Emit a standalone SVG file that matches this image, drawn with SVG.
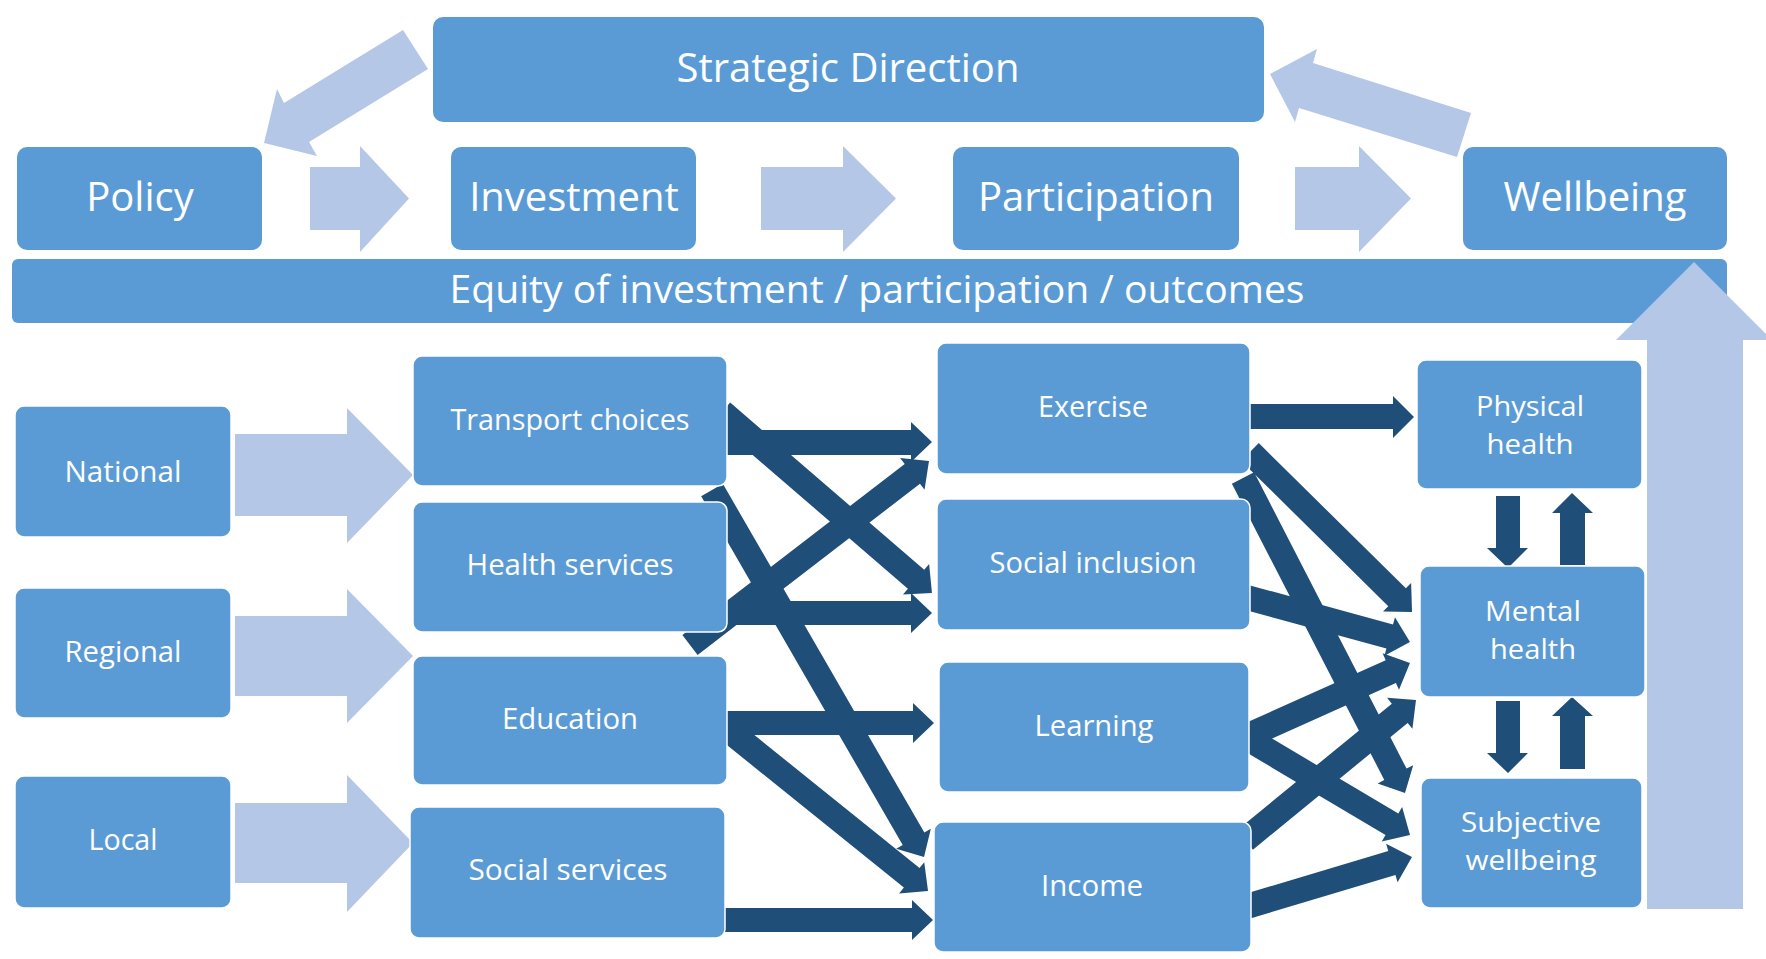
<svg xmlns="http://www.w3.org/2000/svg" width="1766" height="959" viewBox="0 0 1766 959">
  <style>
    .box { fill: #5B9BD5; stroke: #FFFFFF; stroke-width: 1.5; }
    .light { fill: #B4C7E7; }
    .dark { fill: #1F4E79; }
    text { font-family: "Open Sans", "Noto Sans", "Liberation Sans", sans-serif; fill: #FFFFFF; text-anchor: middle; }
    .big { font-size: 40px; }
    .mid { font-size: 38px; }
    .small { font-size: 30px; }
    .pair { font-size: 27.8px; }
  </style>
  <rect width="1766" height="959" fill="#FFFFFF"/>

  <!-- light feedback and flow arrows, top band -->
  <g id="top-arrows">
    <polygon class="light" points="403,30 284,103 277,89 264,143 317,156 309,142 428,69"/>
    <polygon class="light" points="1471,113 1313,63 1317,49 1270,74 1295,122 1299,108 1457,157"/>
    <polygon class="light" points="310,167 360,167 360,146 409,198.5 360,252 360,230 310,230"/>
    <polygon class="light" points="761,167 843,167 843,146 896,198.5 843,252 843,230 761,230"/>
    <polygon class="light" points="1295,167 1359,167 1359,146 1411,198.5 1359,252 1359,230 1295,230"/>
  </g>

  <!-- top row -->
  <g id="strategic-direction">
    <rect x="433" y="17" width="831" height="105" rx="10" fill="#5B9BD5"/>
    <text class="big" x="848" y="82">Strategic Direction</text>
  </g>
  <g id="policy">
    <rect x="17" y="147" width="245" height="103" rx="10" fill="#5B9BD5"/>
    <text class="big" x="140" y="211">Policy</text>
  </g>
  <g id="investment">
    <rect x="451" y="147" width="245" height="103" rx="10" fill="#5B9BD5"/>
    <text class="big" x="574" y="211">Investment</text>
  </g>
  <g id="participation">
    <rect x="953" y="147" width="286" height="103" rx="10" fill="#5B9BD5"/>
    <text class="big" x="1096" y="211">Participation</text>
  </g>
  <g id="wellbeing">
    <rect x="1463" y="147" width="264" height="103" rx="10" fill="#5B9BD5"/>
    <text class="big" x="1595" y="211">Wellbeing</text>
  </g>
  <g id="equity">
    <rect x="12" y="259" width="1715" height="64" rx="6" fill="#5B9BD5"/>
    <text class="mid" x="877" y="303" textLength="855" lengthAdjust="spacingAndGlyphs">Equity of investment / participation / outcomes</text>
  </g>

  <!-- large upward arrow on the right -->
  <g id="outcome-arrow">
    <polygon class="light" points="1694,262 1772,340 1743,340 1743,909 1647,909 1647,340 1616,340"/>
  </g>

  <!-- light arrows from level of government to services -->
  <g id="level-arrows">
    <polygon class="light" points="235,434 347,434 347,408 413,475 347,543 347,516 235,516"/>
    <polygon class="light" points="235,616 347,616 347,589 413,656 347,723 347,696 235,696"/>
    <polygon class="light" points="235,803 347,803 347,775 413,843 347,912 347,883 235,883"/>
  </g>

  <!-- dark connectors: services to participation, participation to outcomes -->
  <g id="connectors">
    <!-- horizontal links -->
    <path class="dark" d="M720,430 H911 V422 L932,442 L911,462 V455 H720 Z"/>
    <path class="dark" d="M720,601 H911 V593 L932,613 L911,633 V625 H720 Z"/>
    <path class="dark" d="M720,711 H913 V703 L934,723 L913,743 V735 H720 Z"/>
    <path class="dark" d="M720,908 H912 V900 L933,920 L912,940 V932 H720 Z"/>
    <path class="dark" d="M1245,404 H1393 V396 L1414,417 L1393,438 V429 H1245 Z"/>
    <!-- diagonal links, drawn along their own axis -->
    <path class="dark" transform="translate(722 412) rotate(40.76)" d="M0,-12.5 H256.2 V-20 L277.2,0 L256.2,20 V12.5 H0 Z"/>
    <path class="dark" transform="translate(690 645) rotate(-37.59)" d="M0,-12.5 H280.6 V-20 L301.6,0 L280.6,20 V12.5 H0 Z"/>
    <path class="dark" transform="translate(712 490) rotate(59.98)" d="M0,-12.5 H402.8 V-20 L423.8,0 L402.8,20 V12.5 H0 Z"/>
    <path class="dark" transform="translate(722 725) rotate(38.86)" d="M0,-12.5 H243.6 V-20 L264.6,0 L243.6,20 V12.5 H0 Z"/>
    <path class="dark" transform="translate(1250 452) rotate(44.64)" d="M0,-12.5 H206.7 V-20 L227.7,0 L206.7,20 V12.5 H0 Z"/>
    <path class="dark" transform="translate(1243 478) rotate(62.78)" d="M0,-12.5 H333.2 V-20 L354.2,0 L333.2,20 V12.5 H0 Z"/>
    <path class="dark" transform="translate(1245 597) rotate(15.26)" d="M0,-12.5 H150 V-20 L171,0 L150,20 V12.5 H0 Z"/>
    <path class="dark" transform="translate(1245 737) rotate(-24.15)" d="M0,-12.5 H159.8 V-20 L180.8,0 L159.8,20 V12.5 H0 Z"/>
    <path class="dark" transform="translate(1245 737) rotate(30.71)" d="M0,-12.5 H170.9 V-20 L191.9,0 L170.9,20 V12.5 H0 Z"/>
    <path class="dark" transform="translate(1245 840) rotate(-39.31)" d="M0,-12.5 H200 V-20 L221,0 L200,20 V12.5 H0 Z"/>
    <path class="dark" transform="translate(1245 907) rotate(-16.67)" d="M0,-12.5 H153.3 V-20 L174.3,0 L153.3,20 V12.5 H0 Z"/>
    <!-- vertical links between outcomes -->
    <polygon class="dark" points="1496,496 1520,496 1520,548 1528,548 1508,568 1487,548 1496,548"/>
    <polygon class="dark" points="1560,565 1585,565 1585,513 1593,513 1572,493 1552,513 1560,513"/>
    <polygon class="dark" points="1496,701 1520,701 1520,753 1528,753 1508,773 1487,753 1496,753"/>
    <polygon class="dark" points="1560,769 1585,769 1585,716 1593,716 1572,697 1552,716 1560,716"/>
  </g>

  <!-- level of government -->
  <g id="national">
    <rect class="box" x="15" y="406" width="216" height="131" rx="9"/>
    <text class="small" x="123" y="482" textLength="117" lengthAdjust="spacingAndGlyphs">National</text>
  </g>
  <g id="regional">
    <rect class="box" x="15" y="588" width="216" height="130" rx="9"/>
    <text class="small" x="123" y="662" textLength="117" lengthAdjust="spacingAndGlyphs">Regional</text>
  </g>
  <g id="local">
    <rect class="box" x="15" y="776" width="216" height="132" rx="9"/>
    <text class="small" x="123" y="850" textLength="69" lengthAdjust="spacingAndGlyphs">Local</text>
  </g>

  <!-- services -->
  <g id="transport-choices">
    <rect class="box" x="413" y="356" width="314" height="130" rx="9"/>
    <text class="small" x="570" y="430" textLength="239" lengthAdjust="spacingAndGlyphs">Transport choices</text>
  </g>
  <g id="health-services">
    <rect class="box" x="413" y="502" width="314" height="130" rx="9"/>
    <text class="small" x="570" y="575" textLength="207" lengthAdjust="spacingAndGlyphs">Health services</text>
  </g>
  <g id="education">
    <rect class="box" x="413" y="656" width="314" height="129" rx="9"/>
    <text class="small" x="570" y="729" textLength="136" lengthAdjust="spacingAndGlyphs">Education</text>
  </g>
  <g id="social-services">
    <rect class="box" x="410" y="807" width="315" height="131" rx="9"/>
    <text class="small" x="568" y="880" textLength="199" lengthAdjust="spacingAndGlyphs">Social services</text>
  </g>

  <!-- participation -->
  <g id="exercise">
    <rect class="box" x="937" y="343" width="313" height="131" rx="9"/>
    <text class="small" x="1093" y="417" textLength="110" lengthAdjust="spacingAndGlyphs">Exercise</text>
  </g>
  <g id="social-inclusion">
    <rect class="box" x="937" y="499" width="313" height="131" rx="9"/>
    <text class="small" x="1093" y="573" textLength="207" lengthAdjust="spacingAndGlyphs">Social inclusion</text>
  </g>
  <g id="learning">
    <rect class="box" x="939" y="662" width="310" height="130" rx="9"/>
    <text class="small" x="1094" y="736" textLength="119" lengthAdjust="spacingAndGlyphs">Learning</text>
  </g>
  <g id="income">
    <rect class="box" x="934" y="822" width="317" height="130" rx="9"/>
    <text class="small" x="1092" y="896" textLength="102" lengthAdjust="spacingAndGlyphs">Income</text>
  </g>

  <!-- outcomes: two-line labels -->
  <g id="physical-health">
    <rect class="box" x="1417" y="360" width="225" height="129" rx="9"/>
    <text class="pair" x="1530" y="416" textLength="108" lengthAdjust="spacingAndGlyphs">Physical</text>
    <text class="pair" x="1530" y="454" textLength="87" lengthAdjust="spacingAndGlyphs">health</text>
  </g>
  <g id="mental-health">
    <rect class="box" x="1420" y="566" width="225" height="131" rx="9"/>
    <text class="pair" x="1533" y="621" textLength="96" lengthAdjust="spacingAndGlyphs">Mental</text>
    <text class="pair" x="1533" y="659" textLength="86" lengthAdjust="spacingAndGlyphs">health</text>
  </g>
  <g id="subjective-wellbeing">
    <rect class="box" x="1421" y="778" width="221" height="130" rx="9"/>
    <text class="pair" x="1531" y="832" textLength="140" lengthAdjust="spacingAndGlyphs">Subjective</text>
    <text class="pair" x="1531" y="870" textLength="131" lengthAdjust="spacingAndGlyphs">wellbeing</text>
  </g>
</svg>
